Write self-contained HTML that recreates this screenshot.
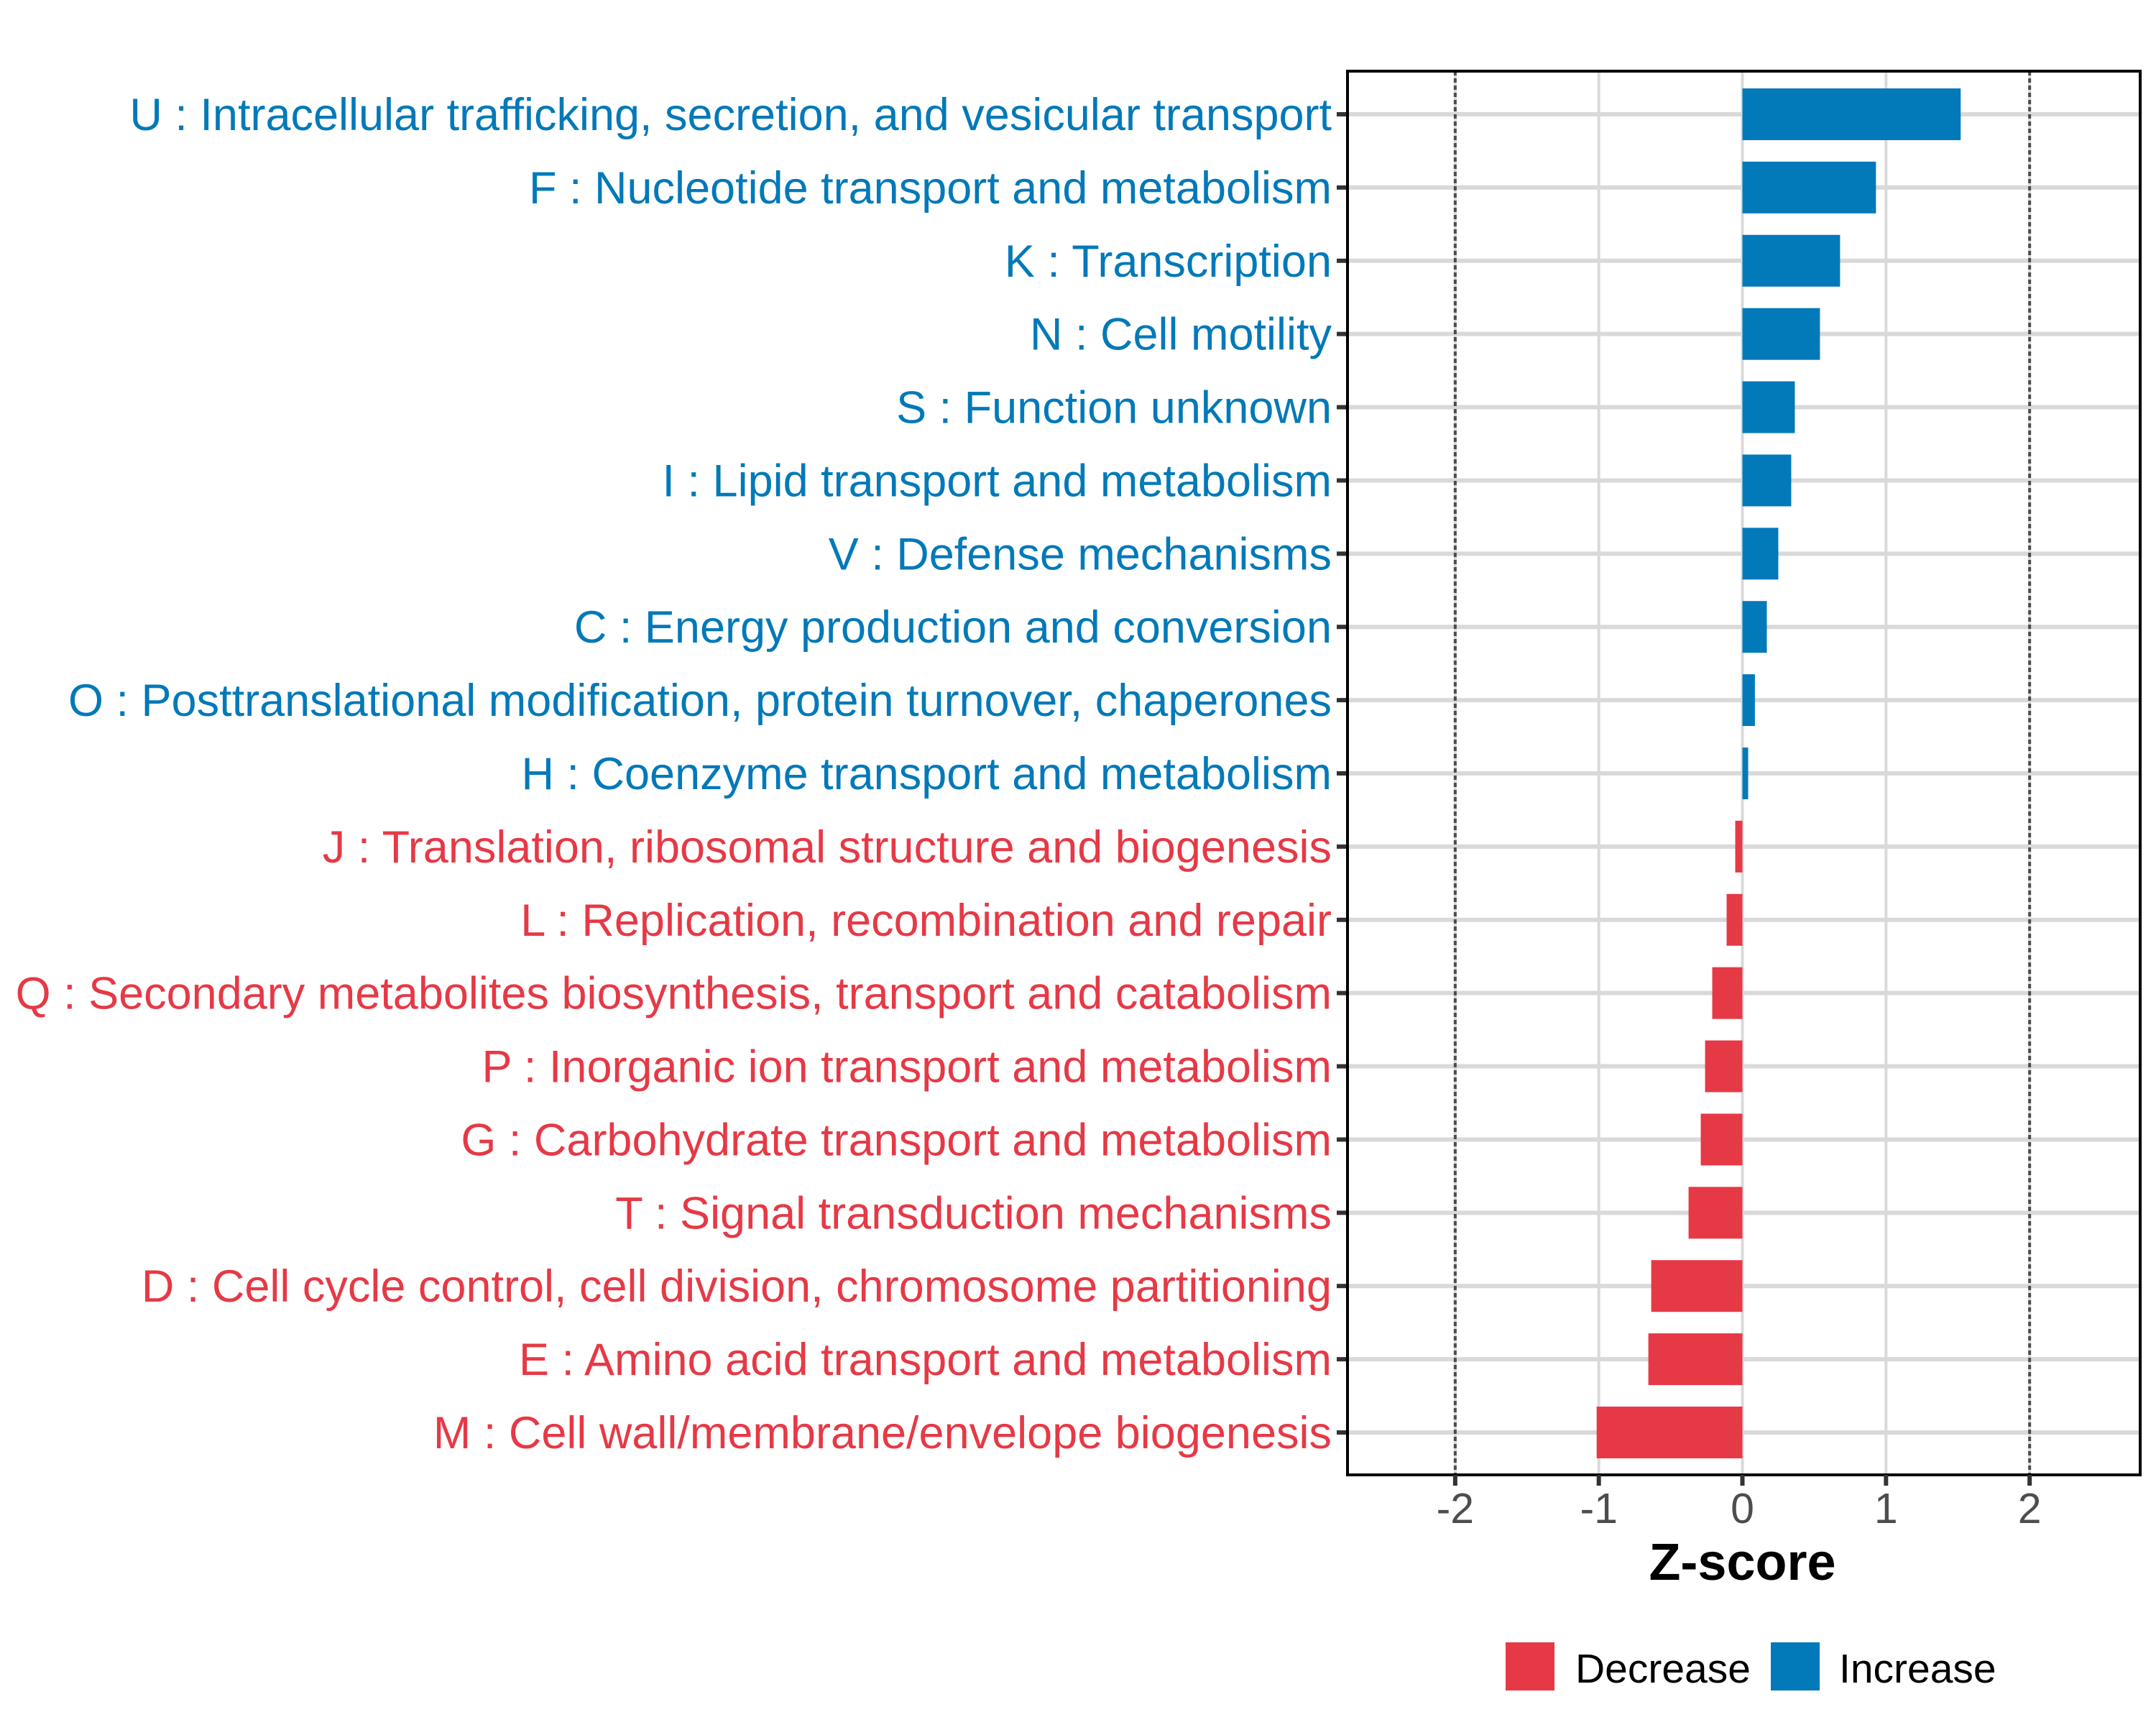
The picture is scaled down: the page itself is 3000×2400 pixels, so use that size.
<!DOCTYPE html>
<html><head><meta charset="utf-8"><style>html,body{margin:0;padding:0;background:#fff}svg{display:block}</style></head>
<body>
<svg id="chart" width="3000" height="2400" xmlns="http://www.w3.org/2000/svg" font-family="Liberation Sans, sans-serif"></svg>
<script>
const categories = ["U : Intracellular trafficking, secretion, and vesicular transport","F : Nucleotide transport and metabolism","K : Transcription","N : Cell motility","S : Function unknown","I : Lipid transport and metabolism","V : Defense mechanisms","C : Energy production and conversion","O : Posttranslational modification, protein turnover, chaperones","H : Coenzyme transport and metabolism","J : Translation, ribosomal structure and biogenesis","L : Replication, recombination and repair","Q : Secondary metabolites biosynthesis, transport and catabolism","P : Inorganic ion transport and metabolism","G : Carbohydrate transport and metabolism","T : Signal transduction mechanisms","D : Cell cycle control, cell division, chromosome partitioning","E : Amino acid transport and metabolism","M : Cell wall/membrane/envelope biogenesis"];
const zscores = [1.52,0.93,0.68,0.54,0.365,0.34,0.25,0.17,0.087,0.04,-0.05,-0.11,-0.21,-0.26,-0.29,-0.375,-0.635,-0.655,-1.015];
const xTicks = [-2,-1,0,1,2];
const xTickLabels = ["-2","-1","0","1","2"];
const legendLabels = ["Decrease","Increase"];

const NS="http://www.w3.org/2000/svg";
const svg=document.getElementById('chart');
const L=1875,R=2978,T=99,B=2052,xmin=-2.75,xmax=2.77;
const BLUE="#0279b8",RED="#e63946";
const xs=v=>L+(v-xmin)/(xmax-xmin)*(R-L);
const step=(1993-159)/(categories.length-1);
const ys=i=>159+i*step;
function el(tag,attrs,parent){const e=document.createElementNS(NS,tag);for(const k in attrs)e.setAttribute(k,attrs[k]);(parent||svg).appendChild(e);return e;}

xTicks.forEach((t,i)=>{
  const g=el('line',{x1:xs(t),x2:xs(t),y1:T,y2:B,stroke:'#d9d9d9','stroke-width':4});
  
  
});
categories.forEach((c,i)=>{
  const g=el('line',{x1:L,x2:R,y1:ys(i),y2:ys(i),stroke:'#d9d9d9','stroke-width':6});
  
  
});
[-2,2].forEach(t=>{
  const g=el('line',{x1:xs(t),x2:xs(t),y1:T,y2:B,stroke:'#4d4d4d','stroke-width':4,'stroke-dasharray':'6 4'});
  
  
});
const bh=72;
zscores.forEach((v,i)=>{
  const x0=xs(0),x1=xs(v);
  const b=el('rect',{x:Math.min(x0,x1),y:ys(i)-bh/2,width:Math.abs(x1-x0),height:bh,fill:v>=0?BLUE:RED});
  
  
  const tk=el('line',{x1:L-15,x2:L,y1:ys(i),y2:ys(i),stroke:'#333','stroke-width':6});
  
  
  const t=el('text',{x:L-22,y:ys(i)+22,'text-anchor':'end','font-size':63,fill:v>=0?BLUE:RED});
  t.textContent=categories[i];
  
  
});
const p=el('rect',{x:L,y:T,width:R-L,height:B-T,fill:'none',stroke:'#000','stroke-width':4});


xTicks.forEach((t,i)=>{
  const tk=el('line',{x1:xs(t),x2:xs(t),y1:B,y2:B+15,stroke:'#333','stroke-width':6});
  
  
  const lb=el('text',{x:xs(t),y:2119,'text-anchor':'middle','font-size':59,fill:'#4d4d4d'});
  lb.textContent=xTickLabels[i];
  
  
});
const xt=el('text',{x:xs(0),y:2198,'text-anchor':'middle','font-size':72,'font-weight':'bold',fill:'#000'});
xt.textContent='Z-score';


const lx=[2095,2464],tx=[2192,2559],lc=[RED,BLUE];
legendLabels.forEach((l,i)=>{
  const r=el('rect',{x:lx[i],y:2285,width:68,height:67,fill:lc[i]});
  
  
  const t=el('text',{x:tx[i],y:2341,'font-size':57,fill:'#000'});
  t.textContent=l;
  
  
});
</script>
</body></html>
